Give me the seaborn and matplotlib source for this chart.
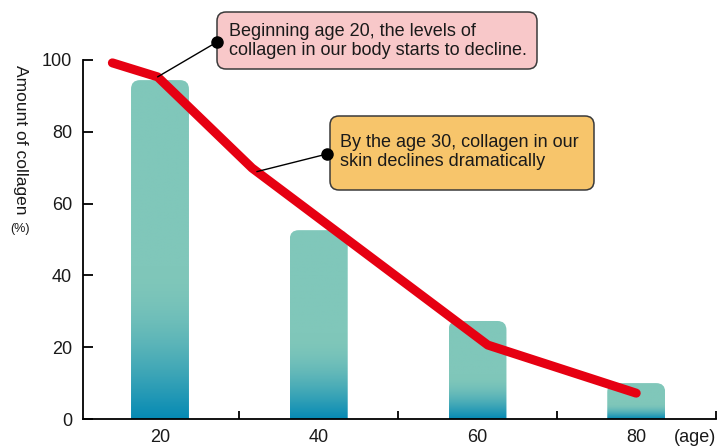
import matplotlib.pyplot as plt
import seaborn as sns
import numpy as np
from matplotlib.patches import FancyBboxPatch
from matplotlib.transforms import Affine2D

# Data
bar_ages = [20, 40, 60, 80]
bar_values = [94.4, 52.6, 27.3, 10.0]
line_ages = [14.0, 19.7, 31.6, 61.3, 80.0]
line_values = [99.2, 95.3, 69.9, 20.6, 7.2]
y_ticks = [0, 20, 40, 60, 80, 100]
note1 = "Beginning age 20, the levels of\ncollagen in our body starts to decline."
note2 = "By the age 30, collagen in our\nskin declines dramatically"

sns.set_theme(style='white')
plt.rcParams['font.family'] = ['Liberation Sans', 'DejaVu Sans']

W, H = 718, 448
fig = plt.figure(figsize=(W / 100, H / 100), dpi=100)
ax = fig.add_axes([83 / W, 1 - 419 / H, 633 / W, 359 / H])
# pixel coords of the reference image (origin top-left)
px = Affine2D().scale(1 / 100, -1 / 100).translate(0, H / 100) + fig.dpi_scale_trans

xlim = (10.3, 90.05)
ylim = (0, 100)

# Bars
sns.barplot(x=bar_ages, y=bar_values, native_scale=True, width=0.365, ax=ax)
ax.set_xlim(*xlim)
ax.set_ylim(*ylim)

teal = np.array([128, 199, 186]) / 255
blue = np.array([6, 138, 180]) / 255
x_ppu = 633 / (xlim[1] - xlim[0])
y_ppu = 359 / (ylim[1] - ylim[0])
r_px = 9
r_x, r_y = r_px / x_ppu, r_px / y_ppu

for p in list(ax.patches):
    x0, w, h = p.get_x(), p.get_width(), p.get_height()
    p.set_visible(False)
    t = np.linspace(0, 1, 256)
    g = 0.45
    f = np.sin(np.pi / 2 * np.clip(t / g, 0, 1))[:, None]
    img = (blue * (1 - f) + teal * f)[:, None, :]
    im = ax.imshow(img, extent=[x0, x0 + w, 0, h], origin='lower',
                   aspect='auto', interpolation='bilinear', zorder=2)
    clip = FancyBboxPatch((x0, -r_y), w, h + r_y,
                          boxstyle=f"round,pad=0,rounding_size={r_x}",
                          mutation_aspect=r_y / r_x,
                          transform=ax.transData, fc='none', ec='none')
    im.set_clip_path(clip)

ax.set_xlim(*xlim)
ax.set_ylim(*ylim)

# Red line
sns.lineplot(x=line_ages, y=line_values, sort=False, color='#e60012', lw=6.5,
             solid_capstyle='round', solid_joinstyle='round', clip_on=False,
             zorder=4, ax=ax)

# Axes styling
for s in ['top', 'right']:
    ax.spines[s].set_visible(False)
for s in ['left', 'bottom']:
    ax.spines[s].set_color('black')
    ax.spines[s].set_linewidth(1.3)
    ax.spines[s].set_zorder(5)

ax.set_xticks(bar_ages)
ax.set_xticklabels([str(a) for a in bar_ages])
ax.set_xticks([30, 50, 70, 90], minor=True)
ax.tick_params(axis='x', which='major', length=0, pad=7, labelsize=13, labelcolor='#1a1a1a')
ax.tick_params(axis='x', which='minor', direction='in', length=6, width=1.3,
               color='black', bottom=True)
ax.set_yticks(y_ticks)
ax.tick_params(axis='y', direction='in', length=7, width=1.3, color='black',
               left=True, pad=8, labelsize=13, labelcolor='#1a1a1a')
ax.grid(False)

# Axis texts
fig.text(695, 437, '(age)', transform=px, ha='center', va='center',
         fontsize=13, color='#1a1a1a')
fig.text(20, 140, 'Amount of collagen', transform=px, ha='center', va='center',
         rotation=-90, fontsize=12.5, color='#1a1a1a')
fig.text(20, 229, '(%)', transform=px, ha='center', va='center',
         fontsize=9, color='#1a1a1a')

# Callout boxes
fig.add_artist(FancyBboxPatch((217, 12), 320, 57,
                              boxstyle="round,pad=0,rounding_size=9",
                              transform=px, fc='#f8c8c9', ec='#3a3a3a', lw=1.1))
fig.text(229, 41, note1, transform=px, ha='left', va='center', fontsize=13,
         linespacing=1.2, color='#1a1a1a')
fig.add_artist(FancyBboxPatch((330, 116), 264, 74,
                              boxstyle="round,pad=0,rounding_size=9",
                              transform=px, fc='#f7c56b', ec='#3a3a3a', lw=1.1))
fig.text(340, 152, note2, transform=px, ha='left', va='center', fontsize=13,
         linespacing=1.2, color='#1a1a1a')

# Connectors
p1 = (line_ages[1], line_values[1])
p2 = (32.2, float(np.interp(32.2, line_ages, line_values)))
for dot, target in [((217, 42), p1), ((327, 154), p2)]:
    ax.annotate('', xy=target, xycoords='data', xytext=dot, textcoords=px,
                arrowprops=dict(arrowstyle='-', color='black', lw=1,
                                shrinkA=0, shrinkB=0), zorder=6)
    fig.add_artist(plt.Line2D([dot[0]], [dot[1]], marker='o', markersize=8,
                              color='black', transform=px))

plt.savefig('out.png', dpi=100)
